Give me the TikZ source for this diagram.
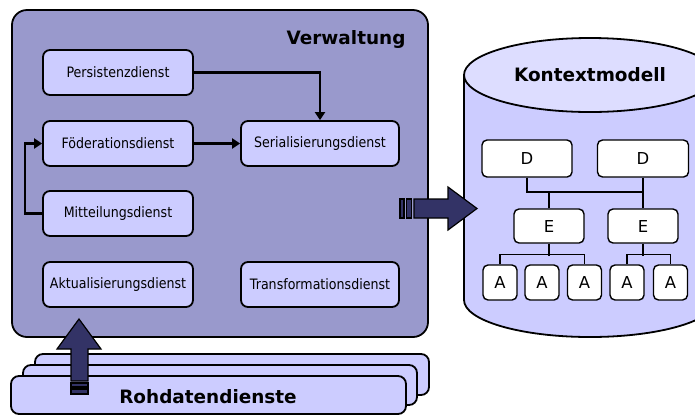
\documentclass[tikz,border=0pt]{standalone}
\usepackage{fontspec}
\setmainfont{DejaVu Sans}
\newfontfamily\dienstschrift[FakeStretch=0.88]{DejaVu Sans}
\usepackage{tikz}
\usetikzlibrary{positioning,calc,arrows.meta}

\definecolor{verwblau}{HTML}{9999CC}
\definecolor{dienstblau}{HTML}{CCCCFF}
\definecolor{deckelblau}{HTML}{DDDDFF}
\definecolor{pfeilblau}{HTML}{333366}

\tikzset{
  dienst/.style={draw, line width=1.8bp, fill=dienstblau, rounded corners=7bp,
    minimum width=150bp, minimum height=45bp, inner sep=0pt,
    font=\dienstschrift\fontsize{14.4}{16}\selectfont},
  knoten/.style={draw, line width=1.4bp, fill=white, rounded corners=5bp,
    inner sep=0pt, font=\fontsize{16.5}{18}\selectfont},
  pfeil/.style={line width=2.4bp, -{Triangle[length=8bp,width=10bp]}},
  ast/.style={line width=1.4bp},
  titel/.style={font=\bfseries\fontsize{18.5}{20}\selectfont},
  block/.style={fill=pfeilblau, draw=black, line width=1.2bp, line join=miter},
  stapel/.style={draw, fill=dienstblau, line width=1.8bp, rounded corners=8bp},
}

\begin{document}
\begin{tikzpicture}[x=1bp, y=-1bp]
    \useasboundingbox (0,0) rectangle (695,415);
    \clip (0,0) rectangle (695,415);

    % Verwaltung
    \draw[fill=verwblau, line width=1.8bp, rounded corners=15bp] (12,10) rectangle (428,337);
    \node[titel, anchor=base east] (verw) at (409,44) {Verwaltung};

    % Dienste
    \node[dienst] (pers) at (118,72.5) {Persistenzdienst};
    \node[dienst] (foed) at (118,143.5) {Föderationsdienst};
    \node[dienst] (mitt) at (118,213.5) {Mitteilungsdienst};
    \node[dienst] (aktu) at (118,284.5) {Aktualisierungsdienst};
    \node[dienst, minimum width=158bp] (seri) at (320,143.5) {Serialisierungsdienst};
    \node[dienst, minimum width=158bp] (trans) at (320,284.5) {Transformationsdienst};

    \draw[pfeil] (pers.east) -| (seri.north);
    \draw[pfeil] (foed) -- (seri);
    \draw[pfeil] (mitt.west) -- ++(-17,0) |- (foed.west);

    % Rohdatendienste (gestapelt)
    \draw[stapel] (35,354) rectangle (429,395);
    \draw[stapel] (23,365) rectangle (417,405);
    \draw[stapel] (11,376) rectangle (406,414);
    \node[titel] (roh) at (208,397) {Rohdatendienste};

    % Blockpfeil nach oben
    \draw[block] (71,381) -- (71,349) -- (57,349) -- (79,319) -- (101,349) -- (88,349) -- (88,381) -- cycle;
    \draw[block] (71,383) rectangle (88,387);
    \draw[block] (71,389) rectangle (88,394);

    % Kontextmodell (Zylinder)
    \fill[dienstblau] (464,75) -- (464,300) arc (180:0:126 and 37) -- (716,75) -- cycle;
    \draw[line width=1.8bp] (464,75) -- (464,300) arc (180:0:126 and 37) -- (716,75);
    \draw[fill=deckelblau, line width=1.8bp] (590,75) ellipse (126 and 37);
    \node[titel] (kontext) at (590,75) {Kontextmodell};

    % Blockpfeil nach rechts
    \draw[block] (414,199) -- (448,199) -- (448,187) -- (477,208.5) -- (448,230) -- (448,218) -- (414,218) -- cycle;
    \draw[block] (400,199) rectangle (404,218);
    \draw[block] (406.5,199) rectangle (411.5,218);

    % Baum
    \node[knoten, minimum width=90bp, minimum height=37bp] (d1) at (527,158.5) {D};
    \node[knoten, minimum width=91bp, minimum height=37bp] (d2) at (643,158.5) {D};
    \node[knoten, minimum width=70bp, minimum height=34bp] (e1) at (549,226) {E};
    \node[knoten, minimum width=70bp, minimum height=34bp] (e2) at (643,226) {E};
    \foreach \n/\x in {1/500,2/542,3/584.5,4/627,5/670.5}
        \node[knoten, minimum width=34bp, minimum height=35bp] (a\n) at (\x,282.5) {A};

    \coordinate (dsteg) at (643,192);
    \draw[ast] (d1.south) |- (dsteg);
    \draw[ast] (d2.south) -- (e2.north);
    \draw[ast] (e1.north) -- (e1.north |- dsteg);
    \draw[ast] (e1.south) -- ++(0,12);
    \draw[ast] (a1.north) -- ++(0,-10) -| (a3.north);
    \draw[ast] (e2.south) -- ++(0,12);
    \draw[ast] (a4.north) -- ++(0,-10) -| (a5.north);
\end{tikzpicture}
\end{document}
